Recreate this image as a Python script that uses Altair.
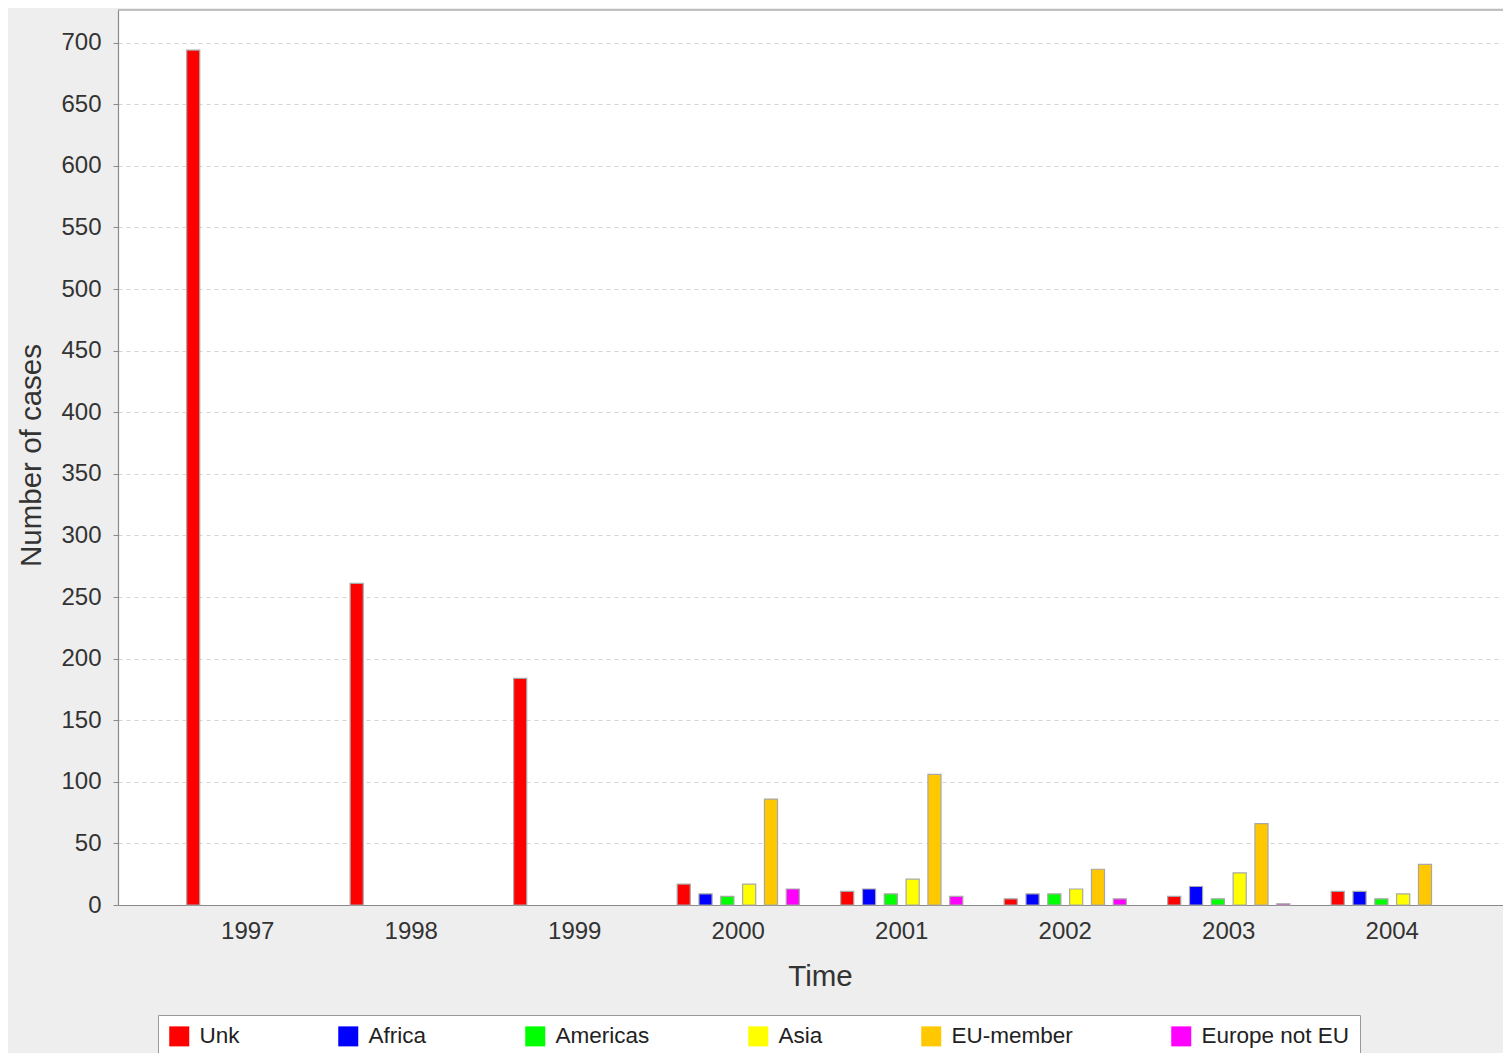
import altair as alt
import pandas as pd

years = ["1997", "1998", "1999", "2000", "2001", "2002", "2003", "2004"]
regions = ["Unk", "Africa", "Americas", "Asia", "EU-member", "Europe not EU"]
colors = ["#FF0000", "#0000FF", "#00FF00", "#FFFF00", "#FFC800", "#FF00FF"]

unk = [694, 261, 184, 17, 11, 5, 7, 11]
africa = [None, None, None, 9, 13, 9, 15, 11]
americas = [None, None, None, 7, 9, 9, 5, 5]
asia = [None, None, None, 17, 21, 13, 26, 9]
eu_member = [None, None, None, 86, 106, 29, 66, 33]
europe_not_eu = [None, None, None, 13, 7, 5, 1, None]

y_ticks = list(range(0, 701, 50))

series = [unk, africa, americas, asia, eu_member, europe_not_eu]
rows = []
for region, vals in zip(regions, series):
    for yr, v in zip(years, vals):
        if v is not None:
            rows.append({"Year": yr, "Region": region, "Cases": v})
df = pd.DataFrame(rows)

W, H = 1385, 895
FONT = "Liberation Sans"
TXT = "#333333"
AXC = "#8a8a8a"

bars = alt.Chart(df).mark_bar(stroke="#A8A8A8", strokeWidth=1.2).encode(
    x=alt.X(
        "Year:N",
        sort=years,
        scale=alt.Scale(domain=years, range=[0, 1404], paddingInner=0, paddingOuter=0.2935),
        axis=alt.Axis(
            title="Time",
            labelAngle=0,
            ticks=False,
            tickSize=0,
            labelBaseline="alphabetic",
            labelPadding=33,
            labelFontSize=24,
            labelColor=TXT,
            domainColor=AXC,
            domainWidth=1.2,
            titleFontSize=29.5,
            titleFontWeight="normal",
            titleColor=TXT,
            titleX=702,
            titleY=80,
            titleAlign="center",
            titleBaseline="alphabetic",
        ),
    ),
    xOffset=alt.XOffset(
        "Region:N",
        sort=regions,
        scale=alt.Scale(domain=regions, paddingInner=0.4, paddingOuter=0.9475),
    ),
    y=alt.Y(
        "Cases:Q",
        scale=alt.Scale(domain=[0, 726.5], nice=False, zero=True),
        axis=alt.Axis(
            title="Number of cases",
            values=y_ticks,
            tickSize=5,
            tickColor=AXC,
            labelPadding=12,
            labelFontSize=24,
            labelColor=TXT,
            domainColor=AXC,
            domainWidth=1.2,
            grid=True,
            gridColor="#D4D4D4",
            gridDash=[4, 4],
            gridWidth=1,
            titleFontSize=29.5,
            titleFontWeight="normal",
            titleColor=TXT,
            titleAngle=270,
            titleX=-78,
            titleY=445,
            titleAlign="center",
            titleBaseline="alphabetic",
        ),
    ),
    color=alt.Color(
        "Region:N",
        sort=regions,
        scale=alt.Scale(domain=regions, range=colors),
        legend=alt.Legend(
            title=None,
            orient="none",
            legendX=40,
            legendY=1005,
            direction="horizontal",
            symbolType="square",
            symbolSize=400,
            symbolStrokeWidth=0,
            symbolOpacity=1,
            labelFontSize=22.5,
            labelColor="#222222",
            labelOffset=9,
            columnPadding=97,
            padding=10,
            strokeColor="#999999",
            fillColor="white",
        ),
    ),
)

top_border = alt.Chart(alt.Data(values=[{"k": 1}])).mark_rule(
    color=AXC, strokeWidth=1.2
).encode(x=alt.value(0), x2=alt.value(W), y=alt.value(0))

chart = (
    alt.layer(bars, top_border)
    .properties(
        width=W,
        height=H,
        padding={"left": 110, "top": 2, "right": 0, "bottom": 148},
        autosize=alt.AutoSizeParams(type="none"),
        background="#EEEEEE",
    )
    .configure(font=FONT)
    .configure_view(fill="white", strokeWidth=0)
)

chart.save("out.html", embed_options={"renderer": "svg", "actions": False})
